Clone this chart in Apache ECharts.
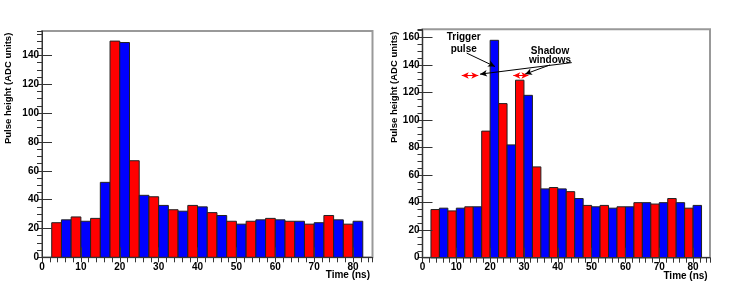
<!DOCTYPE html>
<html>
<head>
<meta charset="utf-8">
<script src="https://cdn.jsdelivr.net/npm/echarts@6/dist/echarts.min.js"></script>
<style>html,body{margin:0;padding:0;background:#fff}#c{width:747px;height:286px}</style>
</head>
<body>
<div id="c"></div>
<script>
// Bin edges in ns (32 bins of the pulse histograms)
const binEdges = [2.5,5,7.5,10,12.5,15,17.5,20,22.5,25,27.5,30,32.5,35,37.5,40,42.5,45,47.5,50,52.5,55,57.5,60,62.5,65,67.5,70,72.5,75,77.5,80,82.5];
// Left panel pulse heights (ADC units)
const leftHeights = [24,26,28,25,27,52,150,149,67,43,42,36,33,32,36,35,31,29,25,23,25,26,27,26,25,25,23,24,29,26,23,25];
// Right panel pulse heights (ADC units)
const rightHeights = [35,36,34,36,37,37,92,158,112,82,129,118,66,50,51,50,48,43,38,37,38,36,37,37,40,40,39,40,43,40,36,38];
const barColors = ['#ff0000', '#0000ff'];
const xTitle = 'Time (ns)';
const yTitle = 'Pulse height (ADC units)';
const annTrigger = 'Trigger\npulse';
const annShadow = 'Shadow\nwindows';

const FONT = 'Liberation Sans, Arial, Helvetica, sans-serif';

function toData(h) {
  return h.map((v, i) => [binEdges[i], binEdges[i + 1], v]);
}

function renderBars(params, api) {
  const x0 = api.value(0), x1 = api.value(1), v = api.value(2);
  const p0 = api.coord([x0, v]);
  const p1 = api.coord([x1, 0]);
  return {
    type: 'rect',
    shape: { x: p0[0], y: p0[1], width: p1[0] - p0[0], height: p1[1] - p0[1] },
    style: { fill: barColors[params.dataIndex % 2], stroke: '#222', lineWidth: 1 }
  };
}

const grids = [
  { left: 42, top: 31, width: 330.5, height: 226.3, ymax: 157 },
  { left: 422.5, top: 29.3, width: 287.5, height: 228.4, ymax: 166 }
];

const xAxes = [], yAxes = [];
grids.forEach((g, gi) => {
  xAxes.push({
    gridIndex: gi, type: 'value', min: 0, max: 85, interval: 10, z: 5,
    axisLine: { show: true, lineStyle: { color: '#333', width: 1 } },
    axisTick: { show: true, inside: true, length: 10, lineStyle: { color: '#333' } },
    axisLabel: { show: true, showMaxLabel: false, margin: 5, color: '#000', fontSize: 10, fontWeight: 'bold', fontFamily: FONT },
    splitLine: { show: false }
  });
  xAxes.push({
    gridIndex: gi, type: 'value', min: 0, max: 85, interval: 2, z: 5,
    axisLine: { show: false },
    axisTick: { show: true, inside: true, length: 5, lineStyle: { color: '#333' } },
    axisLabel: { show: false },
    splitLine: { show: false }
  });
  yAxes.push({
    gridIndex: gi, type: 'value', min: 0, max: g.ymax, interval: 20, z: 5,
    axisLine: { show: true, lineStyle: { color: '#333', width: 1 } },
    axisTick: { show: true, inside: true, length: 10, lineStyle: { color: '#333' } },
    axisLabel: { show: true, showMaxLabel: false, margin: 3, color: '#000', fontSize: 10, fontWeight: 'bold', fontFamily: FONT },
    splitLine: { show: false }
  });
  yAxes.push({
    gridIndex: gi, type: 'value', min: 0, max: g.ymax, interval: 5, z: 5,
    axisLine: { show: false },
    axisTick: { show: true, inside: true, length: 5, lineStyle: { color: '#333' } },
    axisLabel: { show: false },
    splitLine: { show: false }
  });
});

const option = {
  backgroundColor: '#fff',
  animation: false,
  grid: grids.map(g => ({ left: g.left, top: g.top, width: g.width, height: g.height, show: true, borderColor: '#999', borderWidth: 2, backgroundColor: '#fff' })),
  xAxis: xAxes,
  yAxis: yAxes,
  series: [
    {
      type: 'custom', xAxisIndex: 0, yAxisIndex: 0, renderItem: renderBars,
      encode: { x: [0, 1], y: 2 }, data: toData(leftHeights), z: 2
    },
    {
      type: 'custom', xAxisIndex: 2, yAxisIndex: 2, renderItem: renderBars,
      encode: { x: [0, 1], y: 2 }, data: toData(rightHeights), z: 2,
      markLine: {
        silent: true, animation: false, symbol: ['none', 'arrow'], symbolSize: [5, 7],
        label: { show: false },
        lineStyle: { color: '#000', width: 1, type: 'solid' },
        emphasis: { disabled: true },
        data: [
          [{ coord: [13.07, 148.7] }, { coord: [21.44, 138.9] }],
          [{ coord: [44.12, 141.8] }, { coord: [17.0, 133.4] }],
          [{ coord: [37.7, 140.1] }, { coord: [30.3, 133.4] }],
          [{ coord: [11.6, 132.4], symbol: 'arrow', lineStyle: { color: '#ff0000' } }, { coord: [16.5, 132.4], symbol: 'arrow' }],
          [{ coord: [26.85, 132.4], symbol: 'arrow', lineStyle: { color: '#ff0000' } }, { coord: [31.3, 132.4], symbol: 'arrow' }]
        ]
      },
      markPoint: {
        silent: true, animation: false, symbol: 'rect', symbolSize: 1,
        itemStyle: { color: 'rgba(0,0,0,0)' },
        label: { show: true, position: 'inside', color: '#000', fontSize: 10, fontWeight: 'bold', fontFamily: FONT, formatter: '{b}' },
        data: [
          { name: annTrigger, coord: [12.18, 156.1], label: { lineHeight: 12 } },
          { name: annShadow, coord: [37.7, 146.7], label: { lineHeight: 9.5 } }
        ]
      }
    }
  ],
  graphic: [
    { type: 'text', x: 8.3, y: 32.7, rotation: Math.PI / 2, style: { text: yTitle, align: 'right', verticalAlign: 'middle', fill: '#000', font: 'bold 9.5px ' + FONT } },
    { type: 'text', x: 394.7, y: 31.7, rotation: Math.PI / 2, style: { text: yTitle, align: 'right', verticalAlign: 'middle', fill: '#000', font: 'bold 9.5px ' + FONT } },
    { type: 'text', x: 370, y: 275.7, style: { text: xTitle, align: 'right', verticalAlign: 'middle', fill: '#000', font: 'bold 10px ' + FONT } },
    { type: 'text', x: 707.7, y: 276, style: { text: xTitle, align: 'right', verticalAlign: 'middle', fill: '#000', font: 'bold 10px ' + FONT } }
  ]
};

const chart = echarts.init(document.getElementById('c'), null, { renderer: 'canvas' });
chart.setOption(option);
</script>
</body>
</html>
